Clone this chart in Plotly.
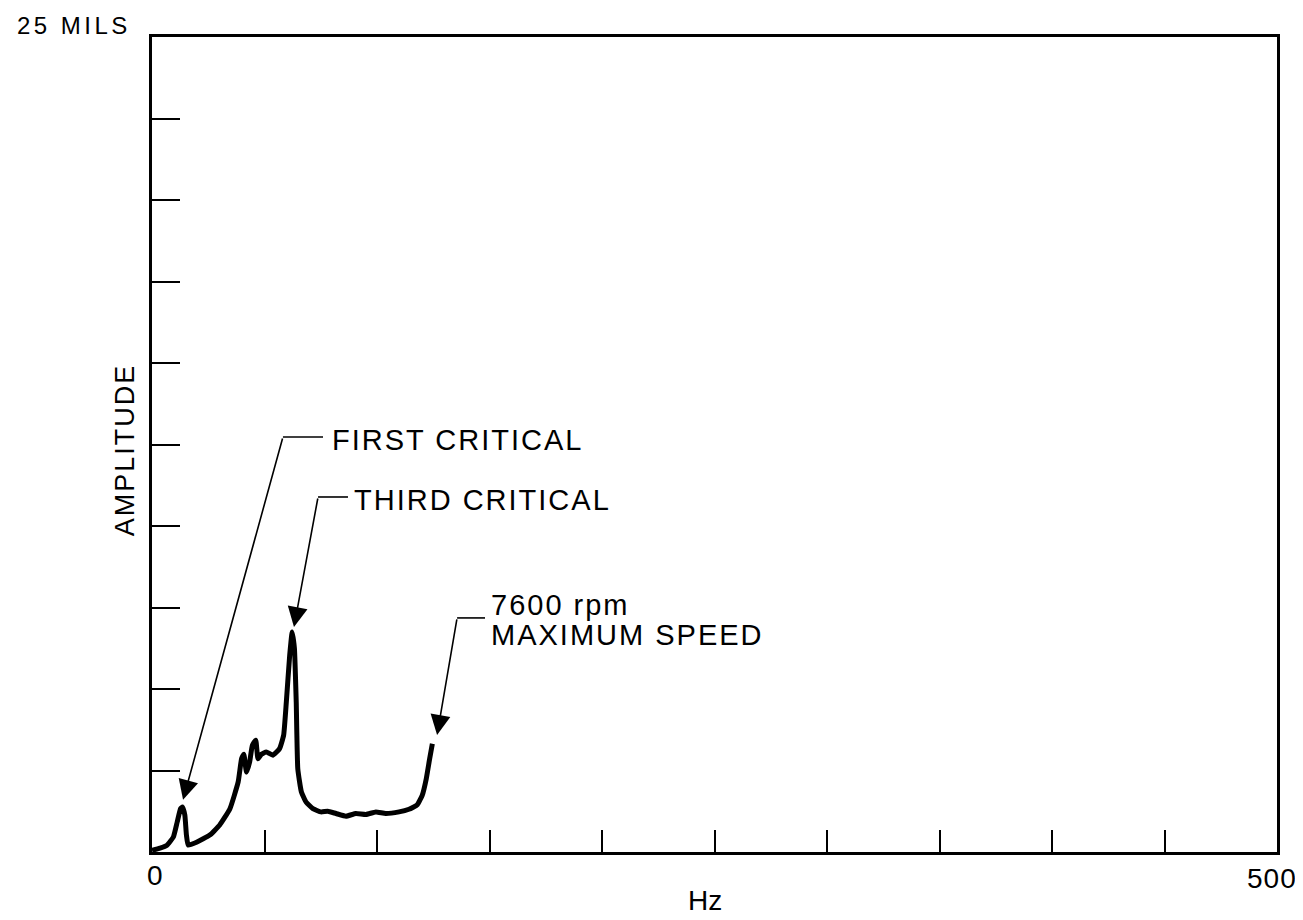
import plotly.graph_objects as go

# Réponse en fréquence (lecture sur le graphique)
freq_hz = [0, 3.5, 6.5, 9.5, 11.2, 12.7, 13.6, 14.6, 15.3, 16.1, 19.8, 25.7, 30.1,
           34.6, 38.3, 39.8, 40.8, 42.0, 43.4, 44.6, 46.1, 47.1, 48.6, 50.8, 53.7,
           56.7, 58.5, 59.7, 61.2, 62.3, 63.3, 64.1, 64.8, 66.4, 68.5, 71.5, 75.1,
           78.1, 81.8, 86.2, 90.6, 95.1, 99.5, 103.9, 109.8, 114.2, 117.9, 120.1,
           121.9, 123.4, 124.6]
amplitude = [0.05, 0.12, 0.2, 0.46, 0.92, 1.33, 1.38, 1.13, 0.52, 0.21, 0.3, 0.52, 0.83,
             1.32, 2.15, 2.86, 3.0, 2.45, 2.76, 3.27, 3.43, 2.86, 3.0, 3.07, 2.97,
             3.17, 3.58, 4.6, 6.04, 6.75, 6.24, 4.6, 2.55, 1.84, 1.53, 1.33, 1.23,
             1.25, 1.18, 1.1, 1.18, 1.15, 1.23, 1.18, 1.23, 1.31, 1.45, 1.74,
             2.25, 2.86, 3.32]

x_ticks = [0, 50, 100, 150, 200, 250, 300, 350, 400, 450, 500]
y_ticks = [0, 2.5, 5, 7.5, 10, 12.5, 15, 17.5, 20, 22.5, 25]

FONT = "Liberation Sans, Arial, sans-serif"


def spaced(txt, sp=2):
    return f'<span style="letter-spacing:{sp}px">{txt}</span>'


fig = go.Figure()

fig.add_trace(go.Scatter(
    x=freq_hz, y=amplitude, mode='lines',
    line=dict(color='black', width=5, shape='spline', smoothing=0.4),
    showlegend=False, hoverinfo='skip'
))

# Flèches de repérage : (pointe, coude, fin du trait horizontal)
callouts = [
    ((13.8, 1.6), (58.2, 12.73), 76.0),
    ((63.1, 6.9), (73.8, 10.89), 87.1),
    ((126.7, 3.59), (135.6, 7.18), 148.0),
]
for (hx, hy), (tx, ty), ex in callouts:
    fig.add_annotation(x=hx, y=hy, ax=tx, ay=ty, xref='x', yref='y',
                       axref='x', ayref='y', text='', showarrow=True,
                       arrowhead=2, arrowsize=2.5, arrowwidth=1.6,
                       arrowcolor='black', standoff=0)
    fig.add_shape(type='line', x0=tx, y0=ty, x1=ex, y1=ty, xref='x', yref='y',
                  line=dict(color='black', width=1.6))

labels = [
    (79.1, 12.64, "FIRST CRITICAL"),
    (88.9, 10.8, "THIRD CRITICAL"),
    (149.8, 7.58, "7600 rpm"),
    (149.8, 6.66, "MAXIMUM SPEED"),
]
for lx, ly, txt in labels:
    fig.add_annotation(x=lx, y=ly, xref='x', yref='y', text=spaced(txt),
                       showarrow=False, xanchor='left', yanchor='middle',
                       font=dict(size=29, color='black', family=FONT))

# Textes des axes
fig.add_annotation(x=-0.122, y=1.0147, xref='paper', yref='paper',
                   text=spaced("25 MILS", 3.5), showarrow=False,
                   xanchor='left', yanchor='middle',
                   font=dict(size=24, color='black', family=FONT))
fig.add_annotation(x=-0.024, y=0.493, xref='paper', yref='paper',
                   text=spaced("AMPLITUDE", 2), showarrow=False, textangle=-90,
                   xanchor='center', yanchor='middle',
                   font=dict(size=27, color='black', family=FONT))
fig.add_annotation(x=0.0027, y=-0.0294, xref='paper', yref='paper',
                   text="0", showarrow=False, xanchor='center', yanchor='middle',
                   font=dict(size=28, color='black', family=FONT))
fig.add_annotation(x=0.9956, y=-0.033, xref='paper', yref='paper',
                   text=spaced("500", 1), showarrow=False,
                   xanchor='center', yanchor='middle',
                   font=dict(size=28, color='black', family=FONT))
fig.add_annotation(x=0.4916, y=-0.0589, xref='paper', yref='paper',
                   text="Hz", showarrow=False, xanchor='center', yanchor='middle',
                   font=dict(size=28, color='black', family=FONT))

# la page ajoute 8 px de marge : on compense
fig.update_layout(
    width=1295, height=912,
    margin=dict(l=144, r=26, t=29, b=68),
    plot_bgcolor='white', paper_bgcolor='white',
    xaxis=dict(range=[0, 500], tickvals=x_ticks, showticklabels=False,
               ticks='inside', ticklen=22, tickwidth=2.2, tickcolor='black',
               showline=True, linecolor='black', linewidth=3, mirror=True,
               showgrid=False, zeroline=False),
    yaxis=dict(range=[0, 25], tickvals=y_ticks, showticklabels=False,
               ticks='inside', ticklen=28, tickwidth=2.2, tickcolor='black',
               showline=True, linecolor='black', linewidth=3, mirror=True,
               showgrid=False, zeroline=False),
)

fig.write_html("out.html")
